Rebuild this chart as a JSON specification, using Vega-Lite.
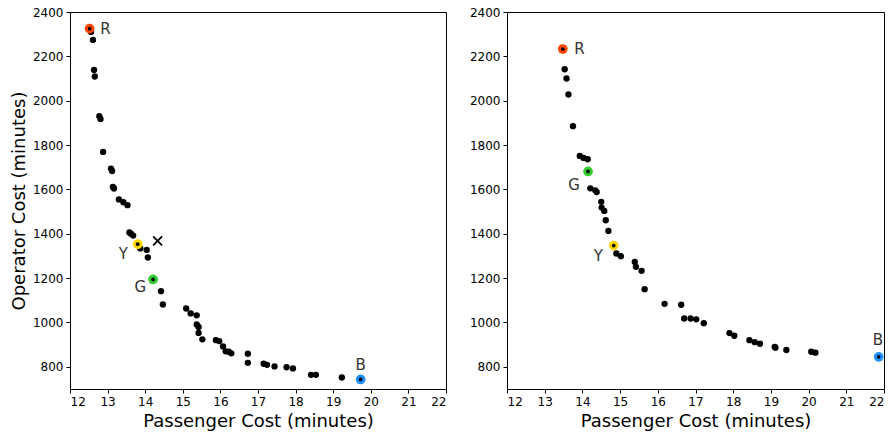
{
  "$schema": "https://vega.github.io/schema/vega-lite/v6.json",
  "padding": {"left": 9, "top": 5, "right": 0, "bottom": 5},
  "spacing": 21,
  "datasets": {
    "left": [
      {"x": 12.56, "y": 2310}, {"x": 12.61, "y": 2274}, {"x": 12.64, "y": 2139}, {"x": 12.66, "y": 2109},
      {"x": 12.78, "y": 1930}, {"x": 12.81, "y": 1918}, {"x": 12.88, "y": 1769}, {"x": 13.09, "y": 1694},
      {"x": 13.12, "y": 1683}, {"x": 13.14, "y": 1611}, {"x": 13.17, "y": 1604}, {"x": 13.30, "y": 1555},
      {"x": 13.42, "y": 1542}, {"x": 13.53, "y": 1529}, {"x": 13.58, "y": 1406}, {"x": 13.62, "y": 1400},
      {"x": 13.68, "y": 1392}, {"x": 13.87, "y": 1334}, {"x": 14.04, "y": 1327}, {"x": 14.07, "y": 1293},
      {"x": 14.42, "y": 1141}, {"x": 14.47, "y": 1081}, {"x": 15.09, "y": 1063}, {"x": 15.21, "y": 1041},
      {"x": 15.37, "y": 1032}, {"x": 15.37, "y": 991}, {"x": 15.42, "y": 980}, {"x": 15.42, "y": 953},
      {"x": 15.52, "y": 924}, {"x": 15.88, "y": 920}, {"x": 15.97, "y": 916}, {"x": 16.07, "y": 892},
      {"x": 16.14, "y": 870}, {"x": 16.22, "y": 868}, {"x": 16.29, "y": 861}, {"x": 16.73, "y": 859},
      {"x": 16.73, "y": 818}, {"x": 17.15, "y": 814}, {"x": 17.24, "y": 809}, {"x": 17.44, "y": 802},
      {"x": 17.76, "y": 798}, {"x": 17.93, "y": 793}, {"x": 18.41, "y": 764}, {"x": 18.54, "y": 764},
      {"x": 19.23, "y": 752}
    ],
    "leftHi": [
      {"key": "R", "x": 12.52, "y": 2325, "lx": 12.94, "ly": 2325},
      {"key": "Y", "x": 13.80, "y": 1353, "lx": 13.42, "ly": 1308},
      {"key": "G", "x": 14.21, "y": 1194, "lx": 13.87, "ly": 1161},
      {"key": "B", "x": 19.73, "y": 743, "lx": 19.73, "ly": 808}
    ],
    "leftX": [{"x": 14.33, "y": 1368}],
    "right": [
      {"x": 13.53, "y": 2142}, {"x": 13.58, "y": 2100}, {"x": 13.63, "y": 2028}, {"x": 13.75, "y": 1885},
      {"x": 13.93, "y": 1751}, {"x": 14.03, "y": 1742}, {"x": 14.14, "y": 1736}, {"x": 14.21, "y": 1605},
      {"x": 14.34, "y": 1596}, {"x": 14.38, "y": 1588}, {"x": 14.50, "y": 1544}, {"x": 14.51, "y": 1518},
      {"x": 14.58, "y": 1503}, {"x": 14.62, "y": 1461}, {"x": 14.69, "y": 1413}, {"x": 14.90, "y": 1311},
      {"x": 15.02, "y": 1299}, {"x": 15.39, "y": 1273}, {"x": 15.42, "y": 1251}, {"x": 15.57, "y": 1233},
      {"x": 15.65, "y": 1150}, {"x": 16.18, "y": 1084}, {"x": 16.62, "y": 1080}, {"x": 16.70, "y": 1018},
      {"x": 16.87, "y": 1018}, {"x": 17.02, "y": 1014}, {"x": 17.22, "y": 997}, {"x": 17.90, "y": 952},
      {"x": 18.03, "y": 940}, {"x": 18.43, "y": 920}, {"x": 18.57, "y": 911}, {"x": 18.71, "y": 904},
      {"x": 19.10, "y": 890}, {"x": 19.12, "y": 886}, {"x": 19.41, "y": 876}, {"x": 20.07, "y": 868},
      {"x": 20.18, "y": 864}
    ],
    "rightHi": [
      {"key": "R", "x": 13.48, "y": 2233, "lx": 13.92, "ly": 2233},
      {"key": "G", "x": 14.15, "y": 1681, "lx": 13.78, "ly": 1619},
      {"key": "Y", "x": 14.83, "y": 1347, "lx": 14.42, "ly": 1300},
      {"key": "B", "x": 21.86, "y": 845, "lx": 21.84, "ly": 920}
    ]
  },
  "config": {
    "font": "DejaVu Sans",
    "view": {"stroke": "#000000", "strokeWidth": 1},
    "axis": {
      "grid": false,
      "labelFont": "DejaVu Sans",
      "labelFontSize": 12,
      "labelColor": "#000000",
      "labelOverlap": false,
      "format": "d",
      "tickColor": "#000000",
      "domainColor": "#000000",
      "tickSize": 4,
      "labelPadding": 3,
      "titleFont": "DejaVu Sans",
      "titleFontSize": 18,
      "titleFontWeight": "normal",
      "titleColor": "#000000"
    },
    "axisX": {"values": [12,13,14,15,16,17,18,19,20,21,22], "tickCount": 10, "labelBound": false, "titlePadding": 5},
    "axisY": {"values": [800,1000,1200,1400,1600,1800,2000,2200,2400], "tickCount": 9}
  },
  "hconcat": [
    {
      "width": 376,
      "height": 377,
      "layer": [
        {
          "data": {"name": "left"},
          "mark": {"type": "point", "filled": true, "color": "#000000", "size": 40, "opacity": 1},
          "encoding": {
            "x": {"field": "x", "type": "quantitative", "title": "Passenger Cost (minutes)",
                  "scale": {"domain": [12, 22], "nice": false, "zero": false}},
            "y": {"field": "y", "type": "quantitative", "title": "Operator Cost (minutes)",
                  "scale": {"domain": [700, 2400], "nice": false, "zero": false},
                  "axis": {"titlePadding": 4}}
          }
        },
        {
          "data": {"name": "leftHi"},
          "mark": {"type": "point", "filled": true, "size": 95, "opacity": 1},
          "encoding": {
            "x": {"field": "x", "type": "quantitative"},
            "y": {"field": "y", "type": "quantitative"},
            "color": {"field": "key", "type": "nominal", "legend": null,
                      "scale": {"domain": ["R", "Y", "G", "B"], "range": ["#ff4500", "#ffd700", "#32cd32", "#1e90ff"]}}
          }
        },
        {
          "data": {"name": "leftHi"},
          "mark": {"type": "point", "filled": true, "color": "#000000", "size": 14, "opacity": 1},
          "encoding": {
            "x": {"field": "x", "type": "quantitative"},
            "y": {"field": "y", "type": "quantitative"}
          }
        },
        {
          "data": {"name": "leftHi"},
          "mark": {"type": "text", "fontSize": 15, "color": "#333333", "align": "center", "baseline": "middle"},
          "encoding": {
            "x": {"field": "lx", "type": "quantitative"},
            "y": {"field": "ly", "type": "quantitative"},
            "text": {"field": "key"}
          }
        },
        {
          "data": {"name": "leftX"},
          "mark": {"type": "point", "shape": "M-1,-1L1,1M-1,1L1,-1", "filled": false, "color": "#000000", "strokeWidth": 1.8, "size": 80, "opacity": 1},
          "encoding": {
            "x": {"field": "x", "type": "quantitative"},
            "y": {"field": "y", "type": "quantitative"}
          }
        }
      ]
    },
    {
      "width": 377,
      "height": 377,
      "layer": [
        {
          "data": {"name": "right"},
          "mark": {"type": "point", "filled": true, "color": "#000000", "size": 40, "opacity": 1},
          "encoding": {
            "x": {"field": "x", "type": "quantitative", "title": "Passenger Cost (minutes)",
                  "scale": {"domain": [12, 22], "nice": false, "zero": false}},
            "y": {"field": "y", "type": "quantitative", "title": null,
                  "scale": {"domain": [700, 2400], "nice": false, "zero": false}}
          }
        },
        {
          "data": {"name": "rightHi"},
          "mark": {"type": "point", "filled": true, "size": 95, "opacity": 1},
          "encoding": {
            "x": {"field": "x", "type": "quantitative"},
            "y": {"field": "y", "type": "quantitative"},
            "color": {"field": "key", "type": "nominal", "legend": null,
                      "scale": {"domain": ["R", "Y", "G", "B"], "range": ["#ff4500", "#ffd700", "#32cd32", "#1e90ff"]}}
          }
        },
        {
          "data": {"name": "rightHi"},
          "mark": {"type": "point", "filled": true, "color": "#000000", "size": 14, "opacity": 1},
          "encoding": {
            "x": {"field": "x", "type": "quantitative"},
            "y": {"field": "y", "type": "quantitative"}
          }
        },
        {
          "data": {"name": "rightHi"},
          "mark": {"type": "text", "fontSize": 15, "color": "#333333", "align": "center", "baseline": "middle"},
          "encoding": {
            "x": {"field": "lx", "type": "quantitative"},
            "y": {"field": "ly", "type": "quantitative"},
            "text": {"field": "key"}
          }
        }
      ]
    }
  ]
}
